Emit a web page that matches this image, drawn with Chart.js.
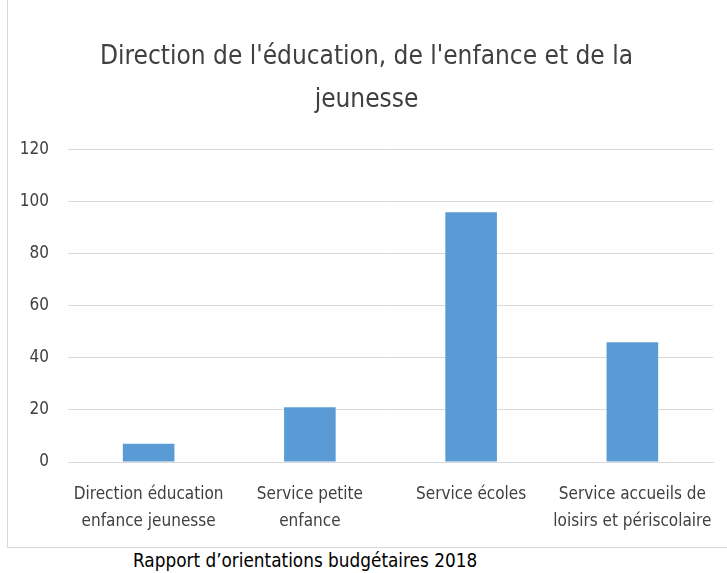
<!DOCTYPE html>
<html><head><meta charset="utf-8">
<script src="https://cdn.jsdelivr.net/npm/chart.js@4/dist/chart.umd.min.js"></script>
<style>
html,body{margin:0;padding:0;background:#fff;width:727px;height:573px;overflow:hidden;}
#box{position:absolute;left:7px;top:0px;width:719px;height:547px;border:1px solid #d9d9d9;border-top:none;}
#wrap{position:absolute;left:0;top:0;width:719px;height:547px;}
#foot{position:absolute;left:133px;top:550px;font-family:"DejaVu Sans Condensed",sans-serif;font-size:18.8px;color:#000;white-space:nowrap;}
</style></head>
<body>
<div id="box"><div id="wrap"><canvas id="c"></canvas></div></div>
<div id="foot">Rapport d’orientations budgétaires 2018</div>
<script>
const categories = [
  ["Direction éducation", "enfance jeunesse"],
  ["Service petite", "enfance"],
  ["Service écoles"],
  ["Service accueils de", "loisirs et périscolaire"]
];
const values = [7, 21, 96, 46];
const titleLines = ["Direction de l'éducation, de l'enfance et de la", "jeunesse"];
const yTicks = [0, 20, 40, 60, 80, 100, 120];

const FF = '"DejaVu Sans Condensed",sans-serif';
new Chart(document.getElementById('c'), {
  type: 'bar',
  data: { labels: categories, datasets: [{ data: values, backgroundColor: '#5b9bd5', borderWidth: 0, categoryPercentage: 1, barPercentage: 0.32 }] },
  options: {
    responsive: true, maintainAspectRatio: false, animation: false,
    layout: { padding: { left: 12, right: 14, top: 0, bottom: 0 } },
    plugins: {
      legend: { display: false }, tooltip: { enabled: false },
      title: { display: true, text: titleLines, color: '#404040', font: { family: FF, size: 26, weight: 'normal', lineHeight: 1.65 }, padding: { top: 36, bottom: 28 } }
    },
    scales: {
      y: {
        min: 0, max: 120,
        afterBuildTicks: s => { s.ticks = yTicks.map(v => ({ value: v })); },
        afterFit: s => { s.width = 48; },
        grid: { color: '#d9d9d9', lineWidth: 1, drawTicks: false },
        border: { display: false },
        ticks: { color: '#404040', font: { family: FF, size: 17 }, padding: 19 }
      },
      x: {
        afterFit: s => { s.height = 85; },
        grid: { display: false },
        border: { display: true, color: '#d9d9d9' },
        ticks: { color: '#404040', font: { family: FF, size: 17, lineHeight: 1.6 }, padding: 11, maxRotation: 0, autoSkip: false }
      }
    }
  }
});
</script>
</body></html>
